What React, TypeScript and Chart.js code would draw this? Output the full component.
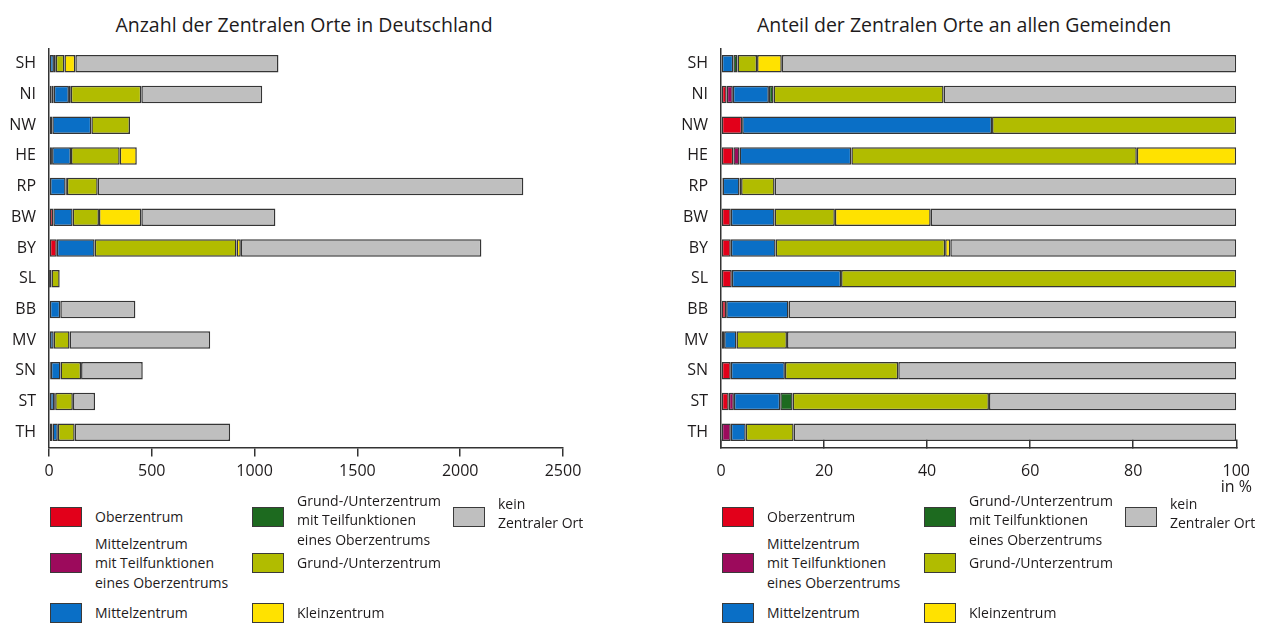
import React, { useEffect, useRef } from 'react';
import { Chart, registerables } from 'chart.js';

Chart.register(...registerables);

// ---------- data ----------
const regions = ['SH', 'NI', 'NW', 'HE', 'RP', 'BW', 'BY', 'SL', 'BB', 'MV', 'SN', 'ST', 'TH'];

// Anzahl (counts)
const anzOber = [0, 11, 16, 10, 5, 21, 38, 1, 4, 5, 9, 3, 0];
const anzMittelTeil = [0, 12, 0, 5, 0, 0, 0, 0, 0, 0, 0, 2, 17];
const anzMittel = [24, 74, 190, 92, 76, 94, 184, 11, 51, 18, 47, 20, 26];
const anzGrundTeil = [9, 9, 0, 0, 6, 0, 0, 0, 0, 0, 0, 5, 0];
const anzGrund = [42, 343, 188, 237, 150, 128, 690, 40, 0, 77, 100, 86, 82];
const anzKlein = [53, 0, 0, 83, 0, 206, 21, 0, 0, 0, 0, 0, 0];
const anzKein = [988, 588, 0, 0, 2070, 652, 1170, 0, 365, 684, 300, 108, 756];

// Anteil (percent)
const antOber = [0, 1.1, 4.1, 2.4, 0.3, 1.9, 1.9, 2.1, 1.0, 0.6, 1.9, 1.5, 0];
const antMittelTeil = [0, 1.2, 0, 1.2, 0, 0, 0, 0, 0, 0, 0, 1.0, 1.9];
const antMittel = [2.4, 7.0, 48.5, 21.7, 3.3, 8.5, 8.7, 21.2, 12.1, 2.4, 10.5, 9.0, 2.9];
const antGrundTeil = [0.8, 0.9, 0, 0, 0.3, 0, 0, 0, 0, 0, 0, 2.4, 0];
const antGrund = [3.8, 33.0, 47.4, 55.4, 6.5, 11.7, 32.9, 76.7, 0, 9.8, 22.0, 38.1, 9.3];
const antKlein = [4.8, 0, 0, 19.3, 0, 18.6, 1.0, 0, 0, 0, 0, 0, 0];
const antKein = [88.2, 56.8, 0, 0, 89.6, 59.3, 55.5, 0, 86.9, 87.2, 65.6, 48.0, 85.9];

const seriesLabels: string[][] = [
  ['Oberzentrum'],
  ['Mittelzentrum', 'mit Teilfunktionen', 'eines Oberzentrums'],
  ['Mittelzentrum'],
  ['Grund-/Unterzentrum', 'mit Teilfunktionen', 'eines Oberzentrums'],
  ['Grund-/Unterzentrum'],
  ['Kleinzentrum'],
  ['kein', 'Zentraler Ort'],
];
const seriesColors = ['#e2001a', '#9c0a5c', '#0a6fc6', '#1d6a1f', '#b1bc00', '#ffe200', '#bfbfbf'];

const leftTicks = [0, 500, 1000, 1500, 2000, 2500];
const rightTicks = [0, 20, 40, 60, 80, 100];

const titleLeft = 'Anzahl der Zentralen Orte in Deutschland';
const titleRight = 'Anteil der Zentralen Orte an allen Gemeinden';
const unitRight = 'in %';

// ---------- layout ----------
const FONT = "'Open Sans', 'Noto Sans', sans-serif";
const TEXT = '#1e1b1c';
const LINE = '#333333';
const CANVAS_H = 500;
const AREA_TOP = 48.5;
const AREA_BOTTOM = 447.5;

function makeDatasets(arrays: number[][]) {
  return arrays.map((d, i) => ({
    label: seriesLabels[i].join(' '),
    data: d,
    backgroundColor: seriesColors[i],
    borderColor: '#353535',
    borderWidth: 1.5,
    borderSkipped: false as any,
    barPercentage: 0.57,
    categoryPercentage: 1,
  }));
}

// draws the unit text under the last tick of the x axis
const unitPlugin = {
  id: 'unitLabel',
  afterDraw(chart: any, _args: any, opts: any) {
    if (!opts || !opts.text) return;
    const x = chart.scales.x;
    const px = x.getPixelForValue(x.max);
    const ctx = chart.ctx;
    ctx.save();
    ctx.font = `16px ${FONT}`;
    ctx.fillStyle = TEXT;
    ctx.textAlign = 'center';
    ctx.textBaseline = 'middle';
    ctx.fillText(opts.text, px, x.top + opts.offset);
    ctx.restore();
  },
};

type BarProps = {
  left: number;
  width: number;
  padRight: number;
  arrays: number[][];
  ticks: number[];
  inward: boolean;
  unit?: string;
};

function BarChart({ left, width, padRight, arrays, ticks, inward, unit }: BarProps) {
  const ref = useRef<HTMLCanvasElement>(null);
  useEffect(() => {
    if (!ref.current) return;
    const max = ticks[ticks.length - 1];
    const tl = inward ? -8 : 9;
    const chart = new Chart(ref.current, {
      type: 'bar',
      data: { labels: regions, datasets: makeDatasets(arrays) as any },
      plugins: [unitPlugin],
      options: {
        indexAxis: 'y',
        responsive: false,
        animation: false,
        devicePixelRatio: 1,
        layout: { padding: { left: 0, right: padRight, top: AREA_TOP, bottom: 0 } },
        plugins: {
          legend: { display: false },
          tooltip: { enabled: false },
          title: { display: false },
          unitLabel: { text: unit || '', offset: 40 },
        },
        scales: {
          x: {
            type: 'linear',
            stacked: true,
            min: ticks[0],
            max,
            afterBuildTicks: (s: any) => {
              s.ticks = ticks.map((v) => ({ value: v }));
            },
            ticks: {
              color: TEXT,
              font: { family: FONT, size: 16 },
              padding: 14 - tl,
              maxRotation: 0,
              callback: (v: any) => String(v),
            },
            grid: {
              display: true,
              drawOnChartArea: false,
              drawTicks: true,
              tickLength: tl,
              color: LINE,
              lineWidth: 1.5,
            },
            border: { display: true, color: LINE, width: 1.5 },
            afterFit: (s: any) => {
              s.height = CANVAS_H - AREA_BOTTOM;
            },
          },
          y: {
            stacked: true,
            ticks: { color: TEXT, font: { family: FONT, size: 16 }, padding: 13 },
            grid: { display: false, drawTicks: false },
            border: { display: true, color: LINE, width: 1.5 },
            afterFit: (s: any) => {
              s.width = 49;
            },
          },
        },
      } as any,
    });
    return () => chart.destroy();
  }, []);
  return (
    <canvas
      ref={ref}
      width={width}
      height={CANVAS_H}
      style={{ position: 'absolute', left, top: 0, width, height: CANVAS_H }}
    />
  );
}

function Title({ cx, text }: { cx: number; text: string }) {
  return (
    <div
      style={{
        position: 'absolute',
        left: cx - 300,
        width: 600,
        top: 13,
        textAlign: 'center',
        fontSize: 19.5,
        lineHeight: '24px',
        color: TEXT,
        whiteSpace: 'nowrap',
      }}
    >
      {text}
    </div>
  );
}

// legend placement: [column, row] per series
const legendPlace = [
  [0, 0], [0, 1], [0, 2],
  [1, 0], [1, 1], [1, 2],
  [2, 0],
];
const legendColX = [0, 202, 403];
const legendRowTop = [507, 553, 603];
const legendTextShift = [0, 0, 0, 3, 0, 0, -4];

function Legend({ x0 }: { x0: number }) {
  const LH = 19.5;
  return (
    <>
      {seriesLabels.map((lines, i) => {
        const [c, r] = legendPlace[i];
        const sx = x0 + legendColX[c];
        const sy = legendRowTop[r];
        const center = sy + 10 + legendTextShift[i];
        return (
          <React.Fragment key={i}>
            <div
              style={{
                position: 'absolute',
                left: sx,
                top: sy,
                width: 32,
                height: 20,
                boxSizing: 'border-box',
                background: seriesColors[i],
                border: '1.5px solid #3a3a3a',
              }}
            />
            <div
              style={{
                position: 'absolute',
                left: sx + 45,
                top: center - (lines.length * LH) / 2,
                fontSize: 14,
                lineHeight: LH + 'px',
                whiteSpace: 'nowrap',
                color: TEXT,
              }}
            >
              {lines.map((l, k) => (
                <div key={k}>{l}</div>
              ))}
            </div>
          </React.Fragment>
        );
      })}
    </>
  );
}

export default function App() {
  return (
    <div
      style={{
        position: 'fixed',
        left: 0,
        top: 0,
        width: 1272,
        height: 624,
        background: '#fff',
        overflow: 'hidden',
        fontFamily: FONT,
      }}
    >
      <Title cx={304} text={titleLeft} />
      <Title cx={964} text={titleRight} />
      <BarChart
        left={0}
        width={608}
        padRight={45}
        arrays={[anzOber, anzMittelTeil, anzMittel, anzGrundTeil, anzGrund, anzKlein, anzKein]}
        ticks={leftTicks}
        inward={false}
      />
      <BarChart
        left={672}
        width={600}
        padRight={0}
        arrays={[antOber, antMittelTeil, antMittel, antGrundTeil, antGrund, antKlein, antKein]}
        ticks={rightTicks}
        inward={true}
        unit={unitRight}
      />
      <Legend x0={50} />
      <Legend x0={722} />
    </div>
  );
}
